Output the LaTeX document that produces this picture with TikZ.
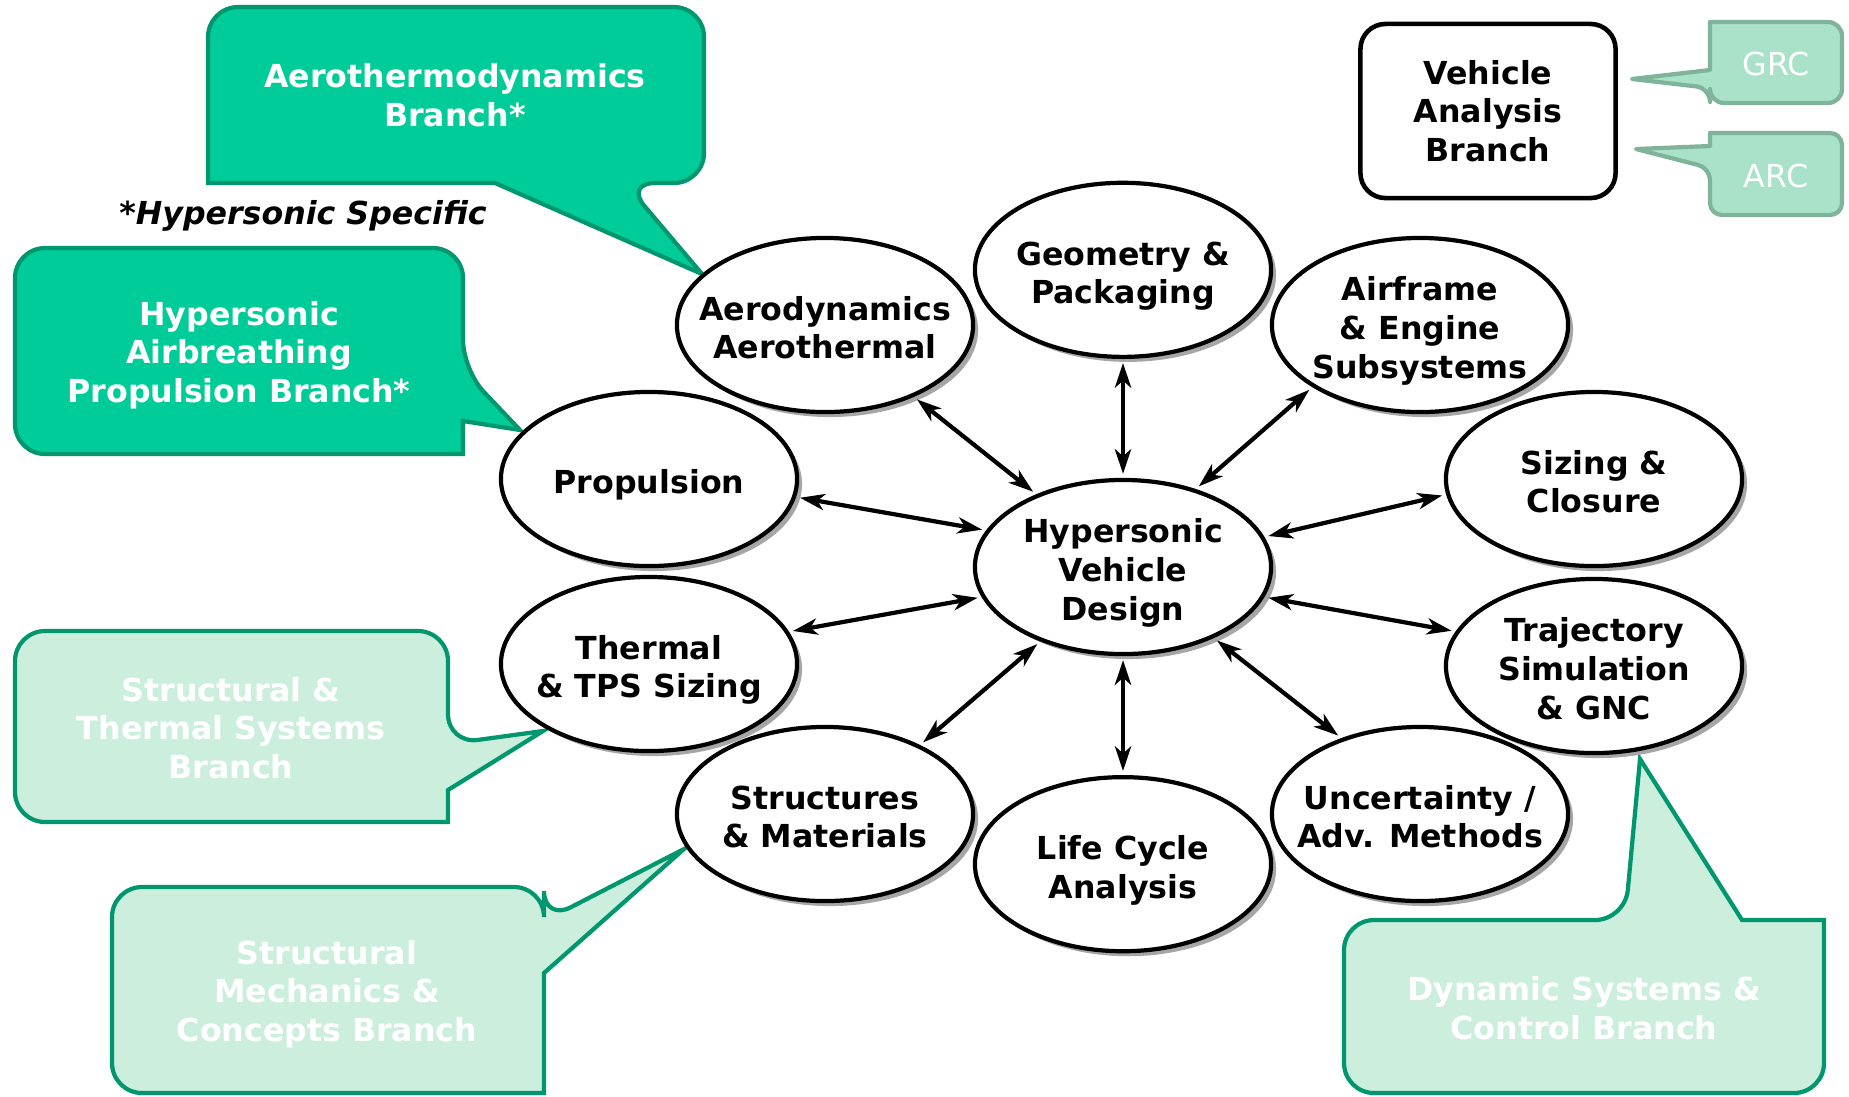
\documentclass[tikz,border=0pt]{standalone}
\usepackage{fontspec}
\setmainfont{DejaVu Sans}
\usepackage{xcolor}
\usepackage{tikz}
\usetikzlibrary{shapes.geometric, arrows, arrows.meta, shadows}
\definecolor{branchfill}{HTML}{00CC99}
\definecolor{branchline}{HTML}{00966E}
\definecolor{palefill}{HTML}{CCEEDD}
\definecolor{centrefill}{HTML}{A9E2C9}
\definecolor{centreline}{HTML}{7FB39A}
\newcommand{\sz}{\fontsize{9}{11}\selectfont}
\newcommand{\ovaltext}[1]{\makebox[0pt]{\raisebox{-4.2pt}[0pt][0pt]{\begin{tabular}{@{}c@{}}#1\end{tabular}}}}
\tikzstyle{topic} = [ellipse, draw=black, line width=1.2pt, fill=white, minimum width=2.96cm, minimum height=1.74cm, inner sep=0pt, font=\sz\bfseries, drop shadow={shadow xshift=0.05cm, shadow yshift=-0.05cm, fill=black!35, opacity=1}]
\tikzstyle{arrow} = [line width=1.2pt, <->, >={Stealth[length=7pt, width=4.6pt, inset=2pt]}, shorten <=0.04cm, shorten >=0.04cm]
\tikzstyle{branch} = [draw=branchline, line width=1.2pt, fill=branchfill]
\tikzstyle{paleb} = [draw=branchline, line width=1.2pt, fill=palefill]
\tikzstyle{centre} = [draw=centreline, line width=1.2pt, fill=centrefill, line join=round]
\tikzstyle{btext} = [align=center, font=\sz\bfseries, text=white]
\tikzstyle{ctext} = [font=\sz, text=white]
\begin{document}
\begin{tikzpicture}[x=0.01cm, y=-0.01cm, node distance=2.97cm]
	\useasboundingbox (0,0) rectangle (1849,1096);
	
	% branch callouts
	\draw [branch] (450,7) [rounded corners=0.3cm] -- (704,7) -- (704,183) -- (625,183) [sharp corners] -- (702,274) -- (495,183) -- (208,183) [rounded corners=0.3cm] -- (208,7) -- cycle;
	\draw [branch] (240,248) [rounded corners=0.3cm] -- (463,248) -- (463,370) [sharp corners] -- (520,430) -- (463,421) -- (463,454) [rounded corners=0.3cm] -- (15,454) -- (15,248) -- cycle;
	\draw [paleb] (230,631) [rounded corners=0.3cm] -- (448,631) -- (448,744) [sharp corners] -- (543,731) -- (448,790) -- (448,822) [rounded corners=0.3cm] -- (15,822) -- (15,631) -- cycle;
	\draw [paleb] (330,887) [rounded corners=0.3cm] -- (544,887) -- (544,921) [sharp corners] -- (684,849) -- (544,973) -- (544,1093) [rounded corners=0.3cm] -- (112,1093) -- (112,887) -- cycle;
	\draw [paleb] (1344,1000) [rounded corners=0.3cm] -- (1344,920) -- (1625,920) [sharp corners] -- (1640,759) -- (1742,920) -- (1824,920) [rounded corners=0.3cm] -- (1824,1093) -- (1344,1093) -- cycle;
	\draw [centre] (1776,22) [rounded corners=0.14cm] -- (1842,22) -- (1842,103) -- (1710,103) -- (1710,88) [sharp corners] -- (1632,79) -- (1710,70) -- (1710,22) [rounded corners=0.14cm] -- cycle;
	\draw [centre] (1776,133) [rounded corners=0.12cm] -- (1842,133) -- (1842,215) -- (1710,215) -- (1710,168) [sharp corners] -- (1636,149) -- (1710,146) -- (1710,133) [rounded corners=0.12cm] -- cycle;
	
	\node (aerobr) [btext] at (455,95) {Aerothermodynamics\\Branch*};
	\node (propbr) [btext] at (239,355) {Hypersonic\\Airbreathing\\Propulsion Branch*};
	\node (stbr) [btext] at (231,728) {Structural \&\\Thermal Systems\\Branch};
	\node (smbr) [btext] at (327,994) {Structural\\Mechanics \&\\Concepts Branch};
	\node (dsbr) [btext] at (1584,1008) {Dynamic Systems \&\\Control Branch};
	\node (grc) [ctext] at (1776,64) {GRC};
	\node (arc) [ctext] at (1776,176) {ARC};
	\node (vab) [rectangle, rounded corners=0.25cm, draw=black, line width=1.3pt, fill=white, minimum width=2.55cm, minimum height=1.74cm, align=center, font=\sz\bfseries] at (1488,111) {Vehicle\\Analysis\\Branch};
	\node (note) [font=\sz\bfseries\itshape] at (303,216) {*Hypersonic Specific};
	
	% disciplines
	\node (design) [topic] at (1123,567) {\ovaltext{Hypersonic\\Vehicle\\Design}};
	\node (geom) [topic, above of=design] {\ovaltext{Geometry \&\\Packaging}};
	\node (life) [topic, below of=design] {\ovaltext{Life Cycle\\Analysis}};
	\node (aero) [topic] at (825,325) {\ovaltext{Aerodynamics\\Aerothermal}};
	\node (airfr) [topic] at (1420,325) {\ovaltext{Airframe\\\& Engine\\Subsystems}};
	\node (prop) [topic] at (649,479) {\ovaltext{Propulsion}};
	\node (sizing) [topic] at (1594,479) {\ovaltext{Sizing \&\\Closure}};
	\node (thermal) [topic] at (649,664) {\ovaltext{Thermal\\\& TPS Sizing}};
	\node (traj) [topic] at (1594,666) {\ovaltext{Trajectory\\Simulation\\\& GNC}};
	\node (struct) [topic] at (825,814) {\ovaltext{Structures\\\& Materials}};
	\node (uncert) [topic] at (1420,814) {\ovaltext{Uncertainty /\\Adv. Methods}};
	
	\draw [arrow] (design.90) -- (geom.270);
	\draw [arrow] (design.140) -- (aero.-39);
	\draw [arrow] (design.47) -- (airfr.210);
	\draw [arrow] (design.165) -- (prop.-7);
	\draw [arrow] (design.12) -- (sizing.186);
	\draw [arrow] (design.192) -- (thermal.13);
	\draw [arrow] (design.-12) -- (traj.166);
	\draw [arrow] (design.222) -- (struct.36);
	\draw [arrow] (design.-38) -- (uncert.136);
	\draw [arrow] (design.270) -- (life.90);
	
\end{tikzpicture}
\end{document}
